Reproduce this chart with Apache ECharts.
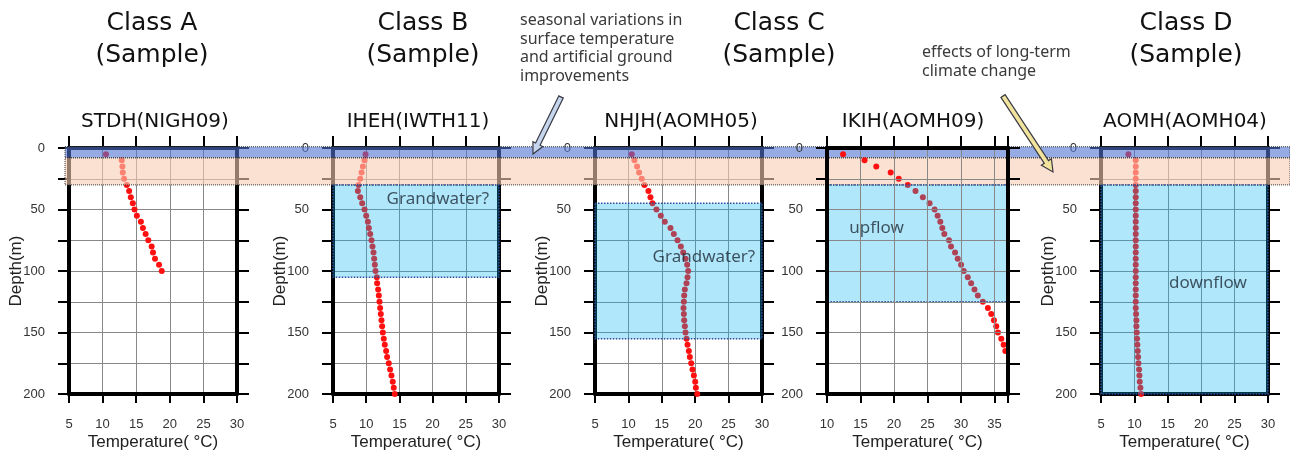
<!DOCTYPE html>
<html>
<head>
<meta charset="utf-8">
<script src="https://cdn.jsdelivr.net/npm/echarts@6/dist/echarts.min.js"></script>
<style>html,body{margin:0;padding:0;background:#fff}#c{width:1290px;height:457px}</style>
</head>
<body>
<div id="c"></div>
<script>
// ---- data ----
const panelTitles = ['STDH(NIGH09)', 'IHEH(IWTH11)', 'NHJH(AOMH05)', 'IKIH(AOMH09)', 'AOMH(AOMH04)'];
const classLabels = ['Class A\n(Sample)', 'Class B\n(Sample)', 'Class C\n(Sample)', 'Class D\n(Sample)'];

const depthA = [5,10,15,20,25,30,35,40,45,50,55,60,65,70,75,80,85,90,95,100];
const tempA  = [10.5,12.85,12.95,13.0,13.2,13.6,13.95,14.2,14.5,14.75,15.1,15.7,16.0,16.4,16.8,17.3,17.5,17.8,18.4,18.8];

const depth200 = [5,10,15,20,25,30,35,40,45,50,55,60,65,70,75,80,85,90,95,100,
                  105,110,115,120,125,130,135,140,145,150,155,160,165,170,175,180,185,190,195,200];
const tempB = [9.9,9.75,9.5,9.3,9.1,8.85,8.75,9.1,9.4,9.75,10.0,10.25,10.4,10.6,10.8,10.95,11.1,11.2,11.3,11.4,
               11.6,11.65,11.8,11.9,12.0,12.1,12.2,12.3,12.4,12.5,12.65,12.8,13.0,13.15,13.4,13.6,13.8,14.0,14.15,14.3];
const tempC = [10.5,10.9,11.3,11.6,12.0,12.4,13.0,13.3,13.6,14.2,14.85,15.45,16.3,16.8,17.35,17.85,18.2,18.55,18.8,18.95,
               18.85,18.7,18.45,18.35,18.3,18.25,18.3,18.35,18.45,18.55,18.7,18.85,19.05,19.2,19.4,19.6,19.8,20.0,20.1,20.3];
const depthD = [5,10,15,20,25,30,35,40,45,50,55,60,65,70,75,80,85,90,95,100,
                105,110,115,120,125,130,135,140,145,150,155,160,165];
const tempD = [12.4,15.6,17.35,19.5,20.7,22.05,23.2,24.3,25.3,26.05,26.5,26.9,27.2,27.5,28.2,28.5,29.1,29.5,30.0,30.4,
               31.0,31.5,32.0,32.5,33.25,34.0,34.5,34.9,35.25,35.5,36.0,36.35,36.6];
const tempE = [9.1,10.2,10.2,10.2,10.2,10.2,10.2,10.2,10.2,10.2,10.2,10.2,10.2,10.2,10.2,10.2,10.2,10.2,10.2,10.2,
               10.2,10.2,10.2,10.2,10.2,10.2,10.25,10.3,10.3,10.35,10.4,10.45,10.5,10.55,10.6,10.7,10.75,10.8,10.9,11.0];

// surface bands (depth ranges, m)
const seasonalBand = [-1, 8];
const climateBand = [8, 30];
// groundwater-flow boxes (depth ranges, m)
const flowBoxes = [null, [30,105], [45,155], [30,125], [30,200]];
const flowLabels = [null, 'Grandwater?', 'Grandwater?', 'upflow', 'downflow'];

// ---- layout ----
const panels = [
  {left:69,  width:168, xmin:5,  xmax:30, depthName:true,  depth:depthA,   temp:tempA, titleX:155,  axisZ:0,  dotZ:2},
  {left:333, width:166, xmin:5,  xmax:30, depthName:true,  depth:depth200, temp:tempB, titleX:418,  axisZ:0,  dotZ:2},
  {left:595, width:167, xmin:5,  xmax:30, depthName:true,  depth:depth200, temp:tempC, titleX:681,  axisZ:0,  dotZ:2},
  {left:827, width:181, xmin:10, xmax:37, depthName:false, depth:depthD,   temp:tempD, titleX:913,  axisZ:20, dotZ:11},
  {left:1101,width:167, xmin:5,  xmax:30, depthName:true,  depth:depth200, temp:tempE, titleX:1185, axisZ:0,  dotZ:2}
];
const labelPos = [null, [20.8,41.5], [21.3,88.5], [17.4,65], [21,110]];
const classX = [152, 423, 779, 1186];

const TOP = 148, BOTTOM = 63;
const grids = [], xAxes = [], yAxes = [], series = [];
const tickFont = '"Liberation Sans", Arial, sans-serif';

panels.forEach((p, i) => {
  grids.push({left:p.left, width:p.width, top:TOP, bottom:BOTTOM});
  const lineStyle = {color:'#000', width:4};
  xAxes.push({
    gridIndex:i, type:'value', min:p.xmin, max:p.xmax, interval:5, position:'bottom', z:p.axisZ,
    axisLine:{show:true, onZero:false, lineStyle},
    axisTick:{show:true, length:9, lineStyle:{color:'#000', width:2}},
    axisLabel:{margin:24, fontSize:13, color:'#333', fontFamily:tickFont,
      formatter:v => (v % 5 === 0 ? String(v) : '')},
    splitLine:{show:true, lineStyle:{color:'#888', width:1}},
    name:'Temperature( °C)', nameLocation:'middle', nameGap:40, nameMoveOverlap:false,
    nameTextStyle:{fontSize:17, color:'#222', fontFamily:tickFont}
  });
  xAxes.push({
    gridIndex:i, type:'value', min:p.xmin, max:p.xmax, interval:5, position:'top', z:p.axisZ,
    axisLine:{show:true, onZero:false, lineStyle},
    axisTick:{show:true, length:12, lineStyle:{color:'#000', width:2}},
    axisLabel:{show:false}, splitLine:{show:false}
  });
  yAxes.push({
    gridIndex:i, type:'value', min:0, max:200, interval:25, inverse:true, position:'left', z:p.axisZ,
    axisLine:{show:true, onZero:false, lineStyle},
    axisTick:{show:true, length:11, lineStyle:{color:'#000', width:2}},
    axisLabel:{margin:24, fontSize:13, color:'#333', fontFamily:tickFont,
      formatter:v => (v % 50 === 0 ? String(v) : '')},
    splitLine:{show:true, lineStyle:{color:'#888', width:1}},
    name:p.depthName ? 'Depth(m)' : '', nameLocation:'middle', nameGap:44, nameMoveOverlap:false,
    nameTextStyle:{fontSize:17, color:'#222', fontFamily:tickFont}
  });
  yAxes.push({
    gridIndex:i, type:'value', min:0, max:200, interval:25, inverse:true, position:'right', z:p.axisZ,
    axisLine:{show:true, onZero:false, lineStyle},
    axisTick:{show:true, length:12, lineStyle:{color:'#000', width:2}},
    axisLabel:{show:false}, splitLine:{show:false}
  });
  series.push({
    type:'scatter', xAxisIndex:2*i, yAxisIndex:2*i, z:p.dotZ,
    symbolSize:6, itemStyle:{color:'#ff1010', opacity:1},
    data:p.temp.map((t, k) => [t, p.depth[k]]), silent:true
  });
  if (flowBoxes[i]) {
    series.push({
      type:'scatter', xAxisIndex:2*i, yAxisIndex:2*i, z:14, silent:true,
      symbolSize:0,
      data:[labelPos[i]],
      label:{show:true, position:'inside', formatter:flowLabels[i], fontSize:17,
             fontFamily:'"Noto Sans", sans-serif', color:'#1e2b38'},
      markArea:{silent:true, z:12,
        itemStyle:{color:'rgba(0,176,240,0.31)', borderColor:'#2b4c9b', borderWidth:1.5, borderType:'dotted'},
        data:[[{yAxis:flowBoxes[i][0]}, {yAxis:flowBoxes[i][1]}]]}
    });
  }
});

// full-width grid for the surface bands
const bi = panels.length;
grids.push({left:65, right:0, top:TOP - 3*1.23, bottom:BOTTOM});
xAxes.push({gridIndex:bi, type:'value', min:0, max:1, show:false});
yAxes.push({gridIndex:bi, type:'value', min:-3, max:200, inverse:true, show:false});
series.push({
  type:'scatter', xAxisIndex:xAxes.length-1, yAxisIndex:yAxes.length-1, z:10, silent:true, data:[],
  markArea:{silent:true, z:10,
    data:[
      [{yAxis:seasonalBand[0], itemStyle:{color:'rgba(80,115,210,0.6)', borderColor:'#333', borderWidth:1, borderType:'dotted'}},
       {yAxis:seasonalBand[1]}],
      [{yAxis:climateBand[0], itemStyle:{color:'rgba(248,205,180,0.6)', borderColor:'#333', borderWidth:1, borderType:'dotted'}},
       {yAxis:climateBand[1]}]
    ]}
});

function arrow(x1, y1, x2, y2, sw, hw, hl, fill) {
  const dx = x2-x1, dy = y2-y1, L = Math.hypot(dx, dy);
  const ux = dx/L, uy = dy/L, nx = -uy, ny = ux;
  const bx = x2 - ux*hl, by = y2 - uy*hl;
  const pts = [
    [x1 + nx*sw/2, y1 + ny*sw/2], [bx + nx*sw/2, by + ny*sw/2], [bx + nx*hw/2, by + ny*hw/2],
    [x2, y2],
    [bx - nx*hw/2, by - ny*hw/2], [bx - nx*sw/2, by - ny*sw/2], [x1 - nx*sw/2, y1 - ny*sw/2]
  ];
  return {type:'polygon', z:100, shape:{points:pts}, style:{fill, stroke:'#3a3a44', lineWidth:1.2}};
}

const graphic = [];
classLabels.forEach((t, i) => graphic.push({
  type:'text', z:100, style:{text:t, x:classX[i], y:39, align:'center', verticalAlign:'middle',
    font:'25px "DejaVu Sans", sans-serif', lineHeight:32, fill:'#111'}
}));
panels.forEach((p, i) => graphic.push({
  type:'text', z:100, style:{text:panelTitles[i], x:p.titleX, y:122, align:'center', verticalAlign:'middle',
    font:'20px "DejaVu Sans", sans-serif', fill:'#111'}
}));
graphic.push({type:'text', z:100, style:{
  text:'seasonal variations in\nsurface temperature\nand artificial ground\nimprovements',
  x:520, y:11, align:'left', verticalAlign:'top', font:'16px "Noto Sans", sans-serif', lineHeight:18.7, fill:'#3a3a3a'}});
graphic.push({type:'text', z:100, style:{
  text:'effects of long-term\nclimate change',
  x:922, y:43, align:'left', verticalAlign:'top', font:'16px "Noto Sans", sans-serif', lineHeight:18.7, fill:'#3a3a3a'}});
graphic.push(arrow(561, 97, 533, 154, 5, 11, 11, '#c6d6ee'));
graphic.push(arrow(1003, 96, 1053, 172, 5, 12, 12, '#f2e49c'));

const chart = echarts.init(document.getElementById('c'), null, {renderer:'canvas'});
chart.setOption({
  animation:false,
  backgroundColor:'#fff',
  grid:grids, xAxis:xAxes, yAxis:yAxes, series, graphic
});
</script>
</body>
</html>
